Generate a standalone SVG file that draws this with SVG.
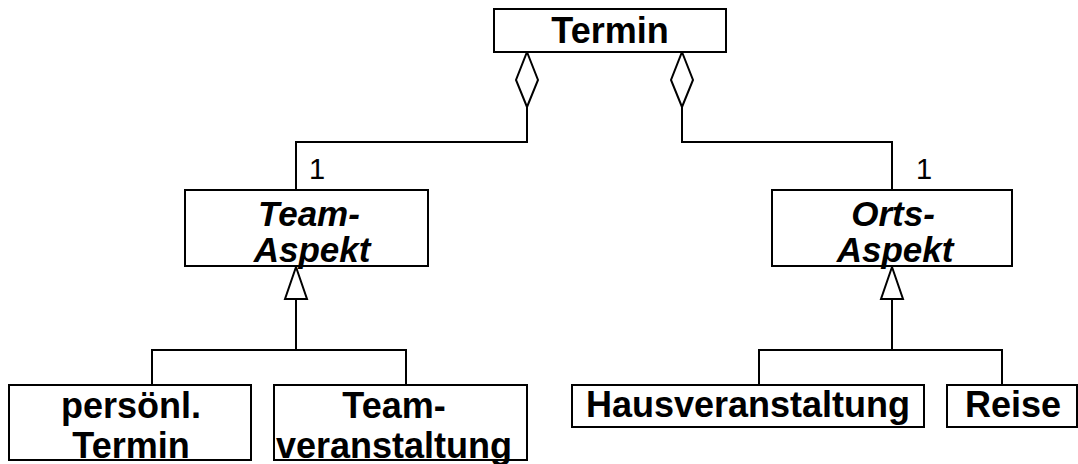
<svg xmlns="http://www.w3.org/2000/svg" width="1078" height="464" viewBox="0 0 1078 464">
  <style>
    .box { fill: #fff; stroke: #000; stroke-width: 2; }
    .line { fill: none; stroke: #000; stroke-width: 2; }
    .head { fill: #fff; stroke: #000; stroke-width: 2; stroke-linejoin: miter; }
    .t { font-family: "Liberation Sans", Arial, sans-serif; font-size: 36px; font-weight: bold; text-anchor: middle; fill: #000; }
    .abs { font-style: italic; font-size: 35px; }
    .mult { font-family: "Liberation Sans", Arial, sans-serif; font-size: 29px; fill: #000; }
  </style>

  <g id="connectors">
    <!-- aggregation: Termin to Team-Aspekt -->
    <polyline class="line" points="527,107 527,142 296,142 296,190"/>
    <polygon class="head" points="527,52 538,80 527,107 516,80"/>
    <!-- aggregation: Termin to Orts-Aspekt -->
    <polyline class="line" points="682,107 682,142 892,142 892,190"/>
    <polygon class="head" points="682,52 693,80 682,107 671,80"/>
    <!-- generalization: Team-Aspekt subclasses -->
    <polyline class="line" points="152,385 152,350 406,350 406,385"/>
    <line class="line" x1="296" y1="299" x2="296" y2="350"/>
    <polygon class="head" points="296,267 307,299 285,299"/>
    <!-- generalization: Orts-Aspekt subclasses -->
    <polyline class="line" points="759,385 759,350 1002,350 1002,385"/>
    <line class="line" x1="892" y1="299" x2="892" y2="350"/>
    <polygon class="head" points="892,267 903,299 881,299"/>
    <!-- multiplicities -->
    <text class="mult" x="309" y="179">1</text>
    <text class="mult" x="916" y="179">1</text>
  </g>

  <g id="termin">
    <rect class="box" x="494" y="9" width="232" height="43"/>
    <text class="t" x="610" y="43">Termin</text>
  </g>

  <g id="team-aspekt">
    <rect class="box" x="185" y="190" width="243" height="76"/>
    <text class="t abs" x="309" y="226">Team-</text>
    <text class="t abs" x="312" y="262">Aspekt</text>
  </g>

  <g id="orts-aspekt">
    <rect class="box" x="772" y="190" width="240" height="76"/>
    <text class="t abs" x="893" y="226">Orts-</text>
    <text class="t abs" x="895" y="262">Aspekt</text>
  </g>

  <g id="persoenl-termin">
    <rect class="box" x="9" y="385" width="242" height="75"/>
    <text class="t" x="131" y="418">persönl.</text>
    <text class="t" x="131" y="458">Termin</text>
  </g>

  <g id="teamveranstaltung">
    <rect class="box" x="274" y="385" width="253" height="75"/>
    <text class="t" x="394" y="418">Team-</text>
    <text class="t" x="394" y="458">veranstaltung</text>
  </g>

  <g id="hausveranstaltung">
    <rect class="box" x="572" y="385" width="352" height="42"/>
    <text class="t" x="748" y="417">Hausveranstaltung</text>
  </g>

  <g id="reise">
    <rect class="box" x="947" y="385" width="130" height="42"/>
    <text class="t" x="1013" y="417">Reise</text>
  </g>
</svg>
